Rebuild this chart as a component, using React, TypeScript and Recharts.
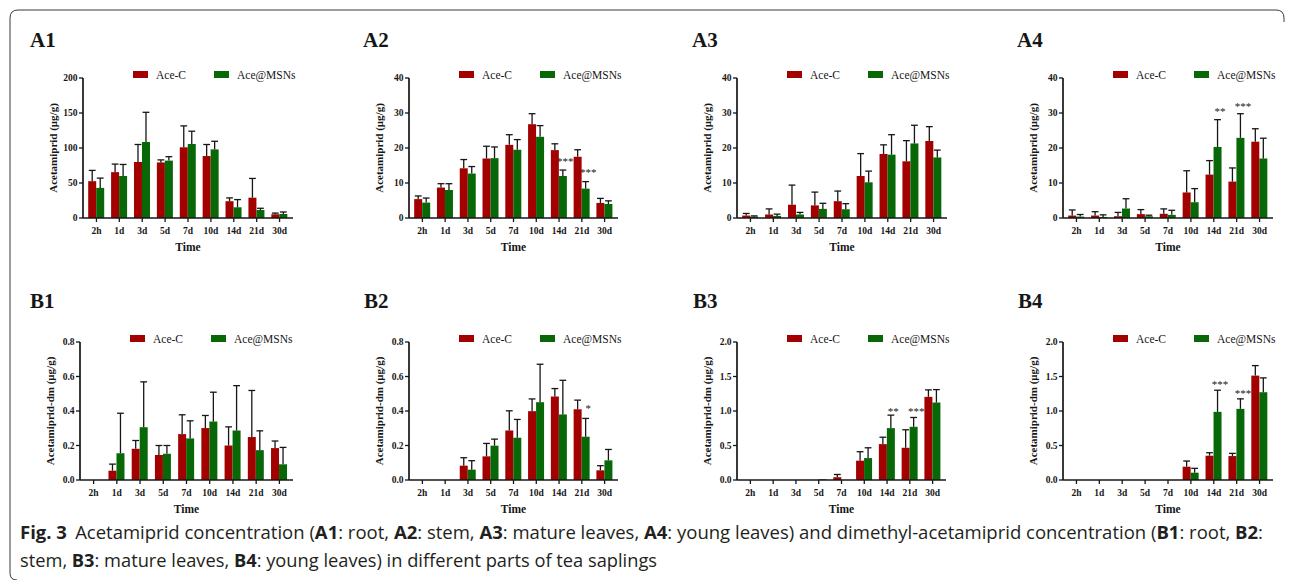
import React from 'react';
import { BarChart, Bar, XAxis, YAxis, Legend } from 'recharts';

const categories = ['2h', '1d', '3d', '5d', '7d', '10d', '14d', '21d', '30d'];
const seriesNames = ['Ace-C', 'Ace@MSNs'];
const xTitle = 'Time';
const yTitleA = 'Acetamiprid (μg/g)';
const yTitleB = 'Acetamiprid-dm (μg/g)';

// A1 root
const a1Red = [52.6, 65.5, 80, 79.4, 101, 88.5, 24, 29, 5.3];
const a1RedSD = [15.4, 11.5, 25, 3.6, 30.6, 16.5, 4.7, 27.5, 1.7];
const a1Green = [43, 60, 108.6, 82, 105.7, 98, 15.3, 11.5, 5.7];
const a1GreenSD = [14, 16.5, 42.4, 5.6, 18.3, 11.6, 11, 2.4, 2.9];
const a1Stars = ['', '', '', '', '', '', '', '', ''];
const a1StarAt = [0, 0, 0, 0, 0, 0, 0, 0, 0];

// A2 stem
const a2Red = [5.4, 8.7, 14.2, 17.0, 20.9, 26.8, 19.4, 17.5, 4.3];
const a2RedSD = [0.9, 1.1, 2.5, 3.5, 2.9, 3.0, 1.8, 2.0, 1.3];
const a2Green = [4.4, 8.0, 12.7, 17.1, 19.5, 23.2, 12.0, 8.4, 4.0];
const a2GreenSD = [1.3, 1.8, 2.0, 3.2, 2.9, 3.2, 1.7, 2.0, 0.9];
const a2Stars = ['', '', '', '', '', '', '***', '***', ''];
const a2StarAt = [0, 0, 0, 0, 0, 0, 16.7, 13.7, 0];

// A3 mature leaves
const a3Red = [0.7, 1.0, 3.8, 3.6, 4.8, 12.0, 18.3, 16.2, 22.0];
const a3RedSD = [0.6, 1.6, 5.6, 3.8, 2.9, 6.4, 2.6, 5.9, 4.1];
const a3Green = [0.4, 0.6, 1.0, 2.6, 2.5, 10.2, 18.1, 21.3, 17.3];
const a3GreenSD = [0.2, 0.5, 0.6, 1.6, 1.6, 3.2, 5.7, 5.2, 2.1];
const a3Stars = ['', '', '', '', '', '', '', '', ''];
const a3StarAt = [0, 0, 0, 0, 0, 0, 0, 0, 0];

// A4 young leaves
const a4Red = [0.7, 0.7, 0.5, 1.1, 1.2, 7.3, 12.4, 10.4, 21.8];
const a4RedSD = [1.6, 1.1, 1.1, 1.3, 1.4, 6.2, 4.0, 3.9, 3.7];
const a4Green = [0.4, 0.3, 2.7, 0.5, 0.9, 4.5, 20.3, 22.9, 17.0];
const a4GreenSD = [0.6, 0.6, 2.8, 0.3, 1.3, 3.9, 7.8, 6.9, 5.8];
const a4Stars = ['', '', '', '', '', '', '**', '***', ''];
const a4StarAt = [0, 0, 0, 0, 0, 0, 30.9, 32.3, 0];

// B1 root
const b1Red = [0, 0.054, 0.181, 0.145, 0.266, 0.301, 0.2, 0.249, 0.185];
const b1RedSD = [0, 0.038, 0.048, 0.055, 0.112, 0.073, 0.108, 0.27, 0.041];
const b1Green = [0, 0.155, 0.306, 0.152, 0.241, 0.339, 0.287, 0.173, 0.091];
const b1GreenSD = [0, 0.232, 0.263, 0.048, 0.102, 0.17, 0.26, 0.112, 0.098];
const b1Stars = ['', '', '', '', '', '', '', '', ''];
const b1StarAt = [0, 0, 0, 0, 0, 0, 0, 0, 0];

// B2 stem
const b2Red = [0, 0, 0.083, 0.137, 0.287, 0.399, 0.484, 0.41, 0.056];
const b2RedSD = [0, 0, 0.046, 0.075, 0.114, 0.071, 0.046, 0.053, 0.027];
const b2Green = [0, 0, 0.06, 0.199, 0.245, 0.451, 0.38, 0.251, 0.114];
const b2GreenSD = [0, 0, 0.052, 0.038, 0.106, 0.22, 0.198, 0.106, 0.063];
const b2Stars = ['', '', '', '', '', '', '', '*', ''];
const b2StarAt = [0, 0, 0, 0, 0, 0, 0, 0.424, 0];

// B3 mature leaves
const b3Red = [0, 0, 0, 0, 0.04, 0.28, 0.52, 0.467, 1.205];
const b3RedSD = [0, 0, 0, 0, 0.04, 0.13, 0.1, 0.261, 0.101];
const b3Green = [0, 0, 0, 0.01, 0, 0.318, 0.752, 0.771, 1.123];
const b3GreenSD = [0, 0, 0, 0, 0, 0.149, 0.188, 0.135, 0.187];
const b3Stars = ['', '', '', '', '', '', '**', '***', ''];
const b3StarAt = [0, 0, 0, 0, 0, 0, 1.02, 1.02, 0];

// B4 young leaves
const b4Red = [0, 0, 0, 0, 0, 0.193, 0.352, 0.347, 1.513];
const b4RedSD = [0, 0, 0, 0, 0, 0.082, 0.043, 0.039, 0.145];
const b4Green = [0, 0, 0, 0, 0, 0.106, 0.988, 1.031, 1.272];
const b4GreenSD = [0, 0, 0, 0, 0, 0.063, 0.313, 0.145, 0.208];
const b4Stars = ['', '', '', '', '', '', '***', '***', ''];
const b4StarAt = [0, 0, 0, 0, 0, 0, 1.41, 1.287, 0];

const ticksA1 = [0, 50, 100, 150, 200];
const ticksA = [0, 10, 20, 30, 40];
const ticksB12 = [0, 0.2, 0.4, 0.6, 0.8];
const ticksB34 = [0, 0.5, 1.0, 1.5, 2.0];

const RED = '#a30000';
const GREEN = '#086808';
const INK = '#161616';
const SERIF = "'Liberation Serif', 'DejaVu Serif', serif";
const SANS = "'Open Sans', 'Noto Sans', sans-serif";

const buildRows = (red: number[], redSD: number[], green: number[], greenSD: number[], stars: string[], starAt: number[]) =>
  categories.map((cat, i) => ({
    cat,
    red: red[i],
    redSD: redSD[i],
    green: green[i],
    greenSD: greenSD[i],
    star: stars[i],
    starAt: starAt[i],
  }));

const makeShape = (valKey: 'red' | 'green', sdKey: 'redSD' | 'greenSD', withStar: boolean) => (p: any) => {
  const { x, y, width, height, fill, payload } = p;
  const val = payload ? payload[valKey] : 0;
  if (!val || !(height > 0)) return <g />;
  const k = height / val;
  const base = y + height;
  const sd = payload[sdKey] || 0;
  const top = base - (val + sd) * k;
  const cx = x + width / 2;
  const cap = width * 0.85;
  return (
    <g>
      <rect x={x} y={y} width={width} height={height} fill={fill} />
      {sd > 0 && (
        <g stroke={INK} strokeWidth={1.3}>
          <line x1={cx} x2={cx} y1={y} y2={top} />
          <line x1={cx - cap / 2} x2={cx + cap / 2} y1={top} y2={top} />
        </g>
      )}
      {withStar && payload.star ? (
        <text x={cx + 2.5} y={base - payload.starAt * k + 5.5} textAnchor="middle" fontFamily={SERIF} fontSize={11} fill={INK}>
          {payload.star}
        </text>
      ) : null}
    </g>
  );
};

const redShape = makeShape('red', 'redSD', false);
const greenShape = makeShape('green', 'greenSD', true);

const LegendBox = () => (
  <div style={{ position: 'relative', width: 190, height: 14, fontFamily: SERIF, fontSize: 11.5, color: INK }}>
    <div style={{ position: 'absolute', left: 0, top: 3.5, width: 15, height: 7, background: RED }} />
    <div style={{ position: 'absolute', left: 23, top: 0, lineHeight: '14px', whiteSpace: 'nowrap' }}>{seriesNames[0]}</div>
    <div style={{ position: 'absolute', left: 81, top: 3.5, width: 15, height: 7, background: GREEN }} />
    <div style={{ position: 'absolute', left: 104, top: 0, lineHeight: '14px', whiteSpace: 'nowrap' }}>{seriesNames[1]}</div>
  </div>
);

type PanelProps = {
  rows: any[];
  ticks: number[];
  decimals: number;
  yTitle: string;
  axisX: number;
  rightX: number;
  topY: number;
  bottomY: number;
};

const Y_W = 70;
const M_TOP = 30;
const X_H = 40;
const M_BOT = 4;
const M_RIGHT = 12;

const Panel = ({ rows, ticks, decimals, yTitle, axisX, rightX, topY, bottomY }: PanelProps) => {
  const left = axisX - Y_W;
  const top = topY - M_TOP;
  const width = rightX - left + M_RIGHT;
  const height = M_TOP + (bottomY - topY) + X_H + M_BOT;
  const tickStyle = { fontSize: 9.5, fontWeight: 'bold', fill: INK, fontFamily: SERIF };
  return (
    <div style={{ position: 'absolute', left, top, width, height }}>
      <BarChart
        width={width}
        height={height}
        data={rows}
        margin={{ top: M_TOP, right: M_RIGHT, bottom: M_BOT, left: 0 }}
        barCategoryGap="14%"
        barGap={0}
      >
        <XAxis
          dataKey="cat"
          interval={0}
          height={X_H}
          padding={{ left: 2, right: 2 }}
          tick={tickStyle}
          tickSize={4}
          tickMargin={5}
          axisLine={{ stroke: INK, strokeWidth: 1.7 }}
          tickLine={{ stroke: INK, strokeWidth: 1.3 }}
          label={(lp: any) => {
            const vb = lp.viewBox || {};
            return (
              <text x={vb.x + vb.width / 2} y={vb.y + 33} textAnchor="middle" fontFamily={SERIF} fontWeight="bold" fontSize={11.5} fill={INK}>
                {xTitle}
              </text>
            );
          }}
        />
        <YAxis
          width={Y_W}
          domain={[ticks[0], ticks[ticks.length - 1]]}
          ticks={ticks}
          interval={0}
          allowDataOverflow
          tick={tickStyle}
          tickSize={4}
          tickMargin={1.5}
          tickFormatter={(v: number) => v.toFixed(decimals)}
          axisLine={{ stroke: INK, strokeWidth: 1.7 }}
          tickLine={{ stroke: INK, strokeWidth: 1.3 }}
          label={(lp: any) => {
            const vb = lp.viewBox || {};
            const cx = vb.x + vb.width - 30;
            const cy = vb.y + vb.height / 2;
            return (
              <text x={cx} y={cy} transform={`rotate(-90 ${cx} ${cy})`} textAnchor="middle" dominantBaseline="central" fontFamily={SERIF} fontWeight="bold" fontSize={11} fill={INK}>
                {yTitle}
              </text>
            );
          }}
        />
        <Legend
          layout="vertical"
          align="center"
          verticalAlign="middle"
          content={() => <LegendBox />}
          wrapperStyle={{ left: Y_W + 50, top: M_TOP - 10.5, width: 190, height: 14 }}
        />
        <Bar dataKey="red" name={seriesNames[0]} fill={RED} isAnimationActive={false} shape={redShape} />
        <Bar dataKey="green" name={seriesNames[1]} fill={GREEN} isAnimationActive={false} shape={greenShape} />
      </BarChart>
    </div>
  );
};

const panels = [
  { id: 'A1', lx: 30, ly: 47, rows: buildRows(a1Red, a1RedSD, a1Green, a1GreenSD, a1Stars, a1StarAt), ticks: ticksA1, decimals: 0, yTitle: yTitleA, axisX: 83, rightX: 293, topY: 78, bottomY: 218 },
  { id: 'A2', lx: 363, ly: 47, rows: buildRows(a2Red, a2RedSD, a2Green, a2GreenSD, a2Stars, a2StarAt), ticks: ticksA, decimals: 0, yTitle: yTitleA, axisX: 409, rightX: 618, topY: 78, bottomY: 218 },
  { id: 'A3', lx: 692, ly: 47, rows: buildRows(a3Red, a3RedSD, a3Green, a3GreenSD, a3Stars, a3StarAt), ticks: ticksA, decimals: 0, yTitle: yTitleA, axisX: 737, rightX: 947, topY: 78, bottomY: 218 },
  { id: 'A4', lx: 1017, ly: 47, rows: buildRows(a4Red, a4RedSD, a4Green, a4GreenSD, a4Stars, a4StarAt), ticks: ticksA, decimals: 0, yTitle: yTitleA, axisX: 1063, rightX: 1273, topY: 78, bottomY: 218 },
  { id: 'B1', lx: 30, ly: 308, rows: buildRows(b1Red, b1RedSD, b1Green, b1GreenSD, b1Stars, b1StarAt), ticks: ticksB12, decimals: 1, yTitle: yTitleB, axisX: 80, rightX: 293, topY: 342, bottomY: 480 },
  { id: 'B2', lx: 364, ly: 308, rows: buildRows(b2Red, b2RedSD, b2Green, b2GreenSD, b2Stars, b2StarAt), ticks: ticksB12, decimals: 1, yTitle: yTitleB, axisX: 409, rightX: 618, topY: 342, bottomY: 480 },
  { id: 'B3', lx: 693, ly: 308, rows: buildRows(b3Red, b3RedSD, b3Green, b3GreenSD, b3Stars, b3StarAt), ticks: ticksB34, decimals: 1, yTitle: yTitleB, axisX: 737, rightX: 946, topY: 342, bottomY: 480 },
  { id: 'B4', lx: 1018, ly: 308, rows: buildRows(b4Red, b4RedSD, b4Green, b4GreenSD, b4Stars, b4StarAt), ticks: ticksB34, decimals: 1, yTitle: yTitleB, axisX: 1063, rightX: 1273, topY: 342, bottomY: 480 },
];

export default function App() {
  return (
    <div style={{ position: 'absolute', left: 0, top: 0, width: 1293, height: 580, background: '#ffffff', overflow: 'hidden' }}>
      <svg width={1293} height={580} style={{ position: 'absolute', left: 0, top: 0 }}>
        <path d="M 17 580 Q 10 580 10 573 L 10 18 Q 10 10 18 10 L 1276 10 Q 1284 10 1284 18 L 1284 22" fill="none" stroke="#3a3a3a" strokeWidth={1} />
        {panels.map((p) => (
          <text key={p.id} x={p.lx} y={p.ly} fontFamily={SERIF} fontWeight="bold" fontSize={21} fill={INK}>
            {p.id}
          </text>
        ))}
        <text x={20} y={539} fontFamily={SANS} fontSize={18} fill="#231f20" textLength={1243} lengthAdjust="spacingAndGlyphs">
          <tspan fontWeight="bold">Fig. 3</tspan>
          <tspan dx={8}>Acetamiprid concentration (</tspan>
          <tspan fontWeight="bold">A1</tspan>
          <tspan>: root, </tspan>
          <tspan fontWeight="bold">A2</tspan>
          <tspan>: stem, </tspan>
          <tspan fontWeight="bold">A3</tspan>
          <tspan>: mature leaves, </tspan>
          <tspan fontWeight="bold">A4</tspan>
          <tspan>: young leaves) and dimethyl-acetamiprid concentration (</tspan>
          <tspan fontWeight="bold">B1</tspan>
          <tspan>: root, </tspan>
          <tspan fontWeight="bold">B2</tspan>
          <tspan>:</tspan>
        </text>
        <text x={20} y={567} fontFamily={SANS} fontSize={18} fill="#231f20" textLength={637} lengthAdjust="spacingAndGlyphs">
          <tspan>stem, </tspan>
          <tspan fontWeight="bold">B3</tspan>
          <tspan>: mature leaves, </tspan>
          <tspan fontWeight="bold">B4</tspan>
          <tspan>: young leaves) in different parts of tea saplings</tspan>
        </text>
      </svg>
      {panels.map((p) => (
        <Panel key={p.id} rows={p.rows} ticks={p.ticks} decimals={p.decimals} yTitle={p.yTitle} axisX={p.axisX} rightX={p.rightX} topY={p.topY} bottomY={p.bottomY} />
      ))}
    </div>
  );
}
